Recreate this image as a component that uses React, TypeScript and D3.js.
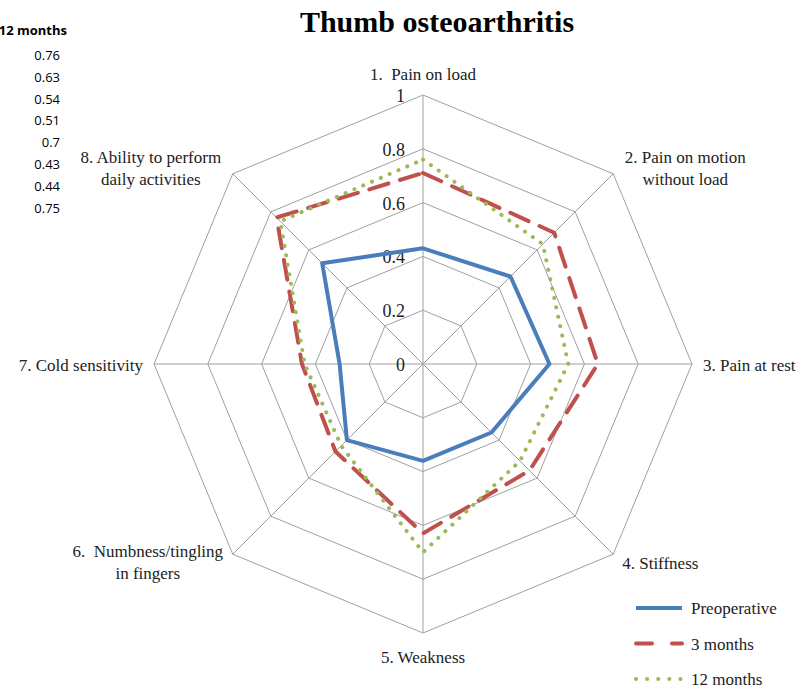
import * as d3 from "d3";
import { useEffect, useRef } from "react";

const categories = [
  ["1.\u00a0 Pain on load"],
  ["2. Pain on motion", "without load"],
  ["3. Pain at rest"],
  ["4. Stiffness"],
  ["5. Weakness"],
  ["6.\u00a0 Numbness/tingling", "in fingers"],
  ["7. Cold sensitivity"],
  ["8. Ability to perform", "daily activities"],
];
const preoperative = [0.43, 0.46, 0.47, 0.36, 0.36, 0.4, 0.31, 0.53];
const threeMonths = [0.71, 0.69, 0.65, 0.56, 0.63, 0.46, 0.45, 0.77];
const twelveMonths = [0.76, 0.63, 0.54, 0.51, 0.7, 0.43, 0.44, 0.75];
const ticks = [0, 0.2, 0.4, 0.6, 0.8, 1];
const seriesNames = ["Preoperative", "3 months", "12 months"];

const serif = "Liberation Serif";

function RadarChart() {
  const ref = useRef<SVGSVGElement>(null);
  const width = 807;
  const height = 690;
  const cx = 423;
  const cy = 364;
  const R = 269;

  useEffect(() => {
    const svg = d3.select(ref.current);
    svg.selectAll("*").remove();

    const r = d3.scaleLinear().domain([0, 1]).range([0, R]);
    const angle = d3
      .scaleLinear()
      .domain([0, categories.length])
      .range([0, 2 * Math.PI]);
    const pt = (i: number, v: number) => [
      cx + r(v) * Math.sin(angle(i)),
      cy - r(v) * Math.cos(angle(i)),
    ];

    // title
    svg
      .append("text")
      .attr("x", 437)
      .attr("y", 32)
      .attr("text-anchor", "middle")
      .style("font-family", serif)
      .attr("font-weight", "bold")
      .attr("font-size", 30)
      .text("Thumb osteoarthritis");

    // leaked table column (12 months)
    const table = svg
      .append("g")
      .style("font-family", "'Open Sans', 'Liberation Sans', sans-serif")
      .attr("font-size", 13)
      .attr("text-anchor", "end");
    table
      .append("text")
      .attr("x", 67)
      .attr("y", 35)
      .attr("font-weight", "bold")
      .text("12 months");
    table
      .selectAll("text.v")
      .data(twelveMonths)
      .enter()
      .append("text")
      .attr("class", "v")
      .attr("x", 60)
      .attr("y", (_, i) => 60 + i * 21.8)
      .text((d) => String(d));

    const g = svg.append("g");

    // grid rings
    ticks.slice(1).forEach((t) => {
      g.append("polygon")
        .attr("points", categories.map((_, i) => pt(i, t).join(",")).join(" "))
        .attr("fill", "none")
        .attr("stroke", "#a0a0a0")
        .attr("stroke-width", 1);
    });
    // spokes
    categories.forEach((_, i) => {
      const [x, y] = pt(i, 1);
      g.append("line")
        .attr("x1", cx)
        .attr("y1", cy)
        .attr("x2", x)
        .attr("y2", y)
        .attr("stroke", "#a0a0a0")
        .attr("stroke-width", 1);
    });

    // tick labels
    g.selectAll("text.tick")
      .data(ticks)
      .enter()
      .append("text")
      .attr("class", "tick")
      .attr("x", cx - 18)
      .attr("y", (d) => cy - r(d) + 7)
      .attr("text-anchor", "end")
      .style("font-family", serif)
      .attr("font-size", 18)
      .attr("fill", "#222")
      .text((d) => String(d));

    // axis labels
    const labelPos = [
      { dx: 0, dy: -15, anchor: "middle" },
      { dx: 72, dy: -11, anchor: "middle" },
      { dx: 11, dy: 7, anchor: "start" },
      { dx: 9, dy: 15, anchor: "start" },
      { dx: 0, dy: 30, anchor: "middle" },
      { dx: -85, dy: 3, anchor: "middle" },
      { dx: -11, dy: 7, anchor: "end" },
      { dx: -82, dy: -11, anchor: "middle" },
    ];
    categories.forEach((lines, i) => {
      const [x, y] = pt(i, 1);
      const p = labelPos[i];
      const t = g
        .append("text")
        .attr("text-anchor", p.anchor)
        .style("font-family", serif)
        .attr("font-size", 17)
        .attr("fill", "#222");
      lines.forEach((line, j) => {
        t.append("tspan")
          .attr("x", x + p.dx)
          .attr("y", y + p.dy + j * 22)
          .text(line);
      });
    });

    // series
    const styles = [
      { color: "#4a7ebb", dash: null as string | null, cap: "butt" },
      { color: "#c0504d", dash: "20 12", cap: "round" },
      { color: "#9bbb59", dash: "0.1 9.5", cap: "round" },
    ];
    const line = d3
      .lineRadial<number>()
      .angle((_, i) => angle(i))
      .radius((d) => r(d))
      .curve(d3.curveLinearClosed);

    [preoperative, threeMonths, twelveMonths].forEach((vals, k) => {
      const s = styles[k];
      g.append("path")
        .attr("transform", `translate(${cx},${cy})`)
        .attr("d", line(vals))
        .attr("fill", "none")
        .attr("stroke", s.color)
        .attr("stroke-width", 4)
        .attr("stroke-linecap", s.cap)
        .attr("stroke-linejoin", "round")
        .attr("stroke-dasharray", s.dash);
    });

    // legend
    const legendDash = [null, "16 20", "0.1 11"];
    const legend = svg.append("g");
    seriesNames.forEach((name, k) => {
      const s = styles[k];
      const y = 608 + k * 35.5;
      legend
        .append("line")
        .attr("x1", 636)
        .attr("x2", 682)
        .attr("y1", y)
        .attr("y2", y)
        .attr("stroke", s.color)
        .attr("stroke-width", 4)
        .attr("stroke-linecap", s.cap)
        .attr("stroke-dasharray", legendDash[k]);
      legend
        .append("text")
        .attr("x", 691)
        .attr("y", y + 6)
        .style("font-family", serif)
        .attr("font-size", 17)
        .attr("fill", "#222")
        .text(name);
    });
  }, []);

  return (
    <svg
      ref={ref}
      width={width}
      height={height}
      style={{ position: "absolute", left: 0, top: 0, background: "#fff" }}
    />
  );
}

export default function App() {
  return <RadarChart />;
}
